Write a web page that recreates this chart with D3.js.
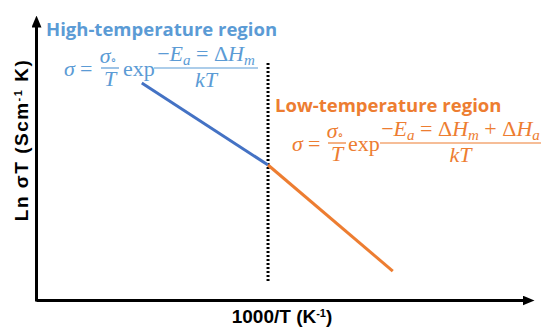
<!DOCTYPE html>
<html>
<head>
<meta charset="utf-8">
<script src="https://cdn.jsdelivr.net/npm/d3@7"></script>
<style>
  body { margin: 0; background: #fff; }
  svg { display: block; }
</style>
</head>
<body>
<div id="chart"></div>
<script>
// schematic Arrhenius plot, arbitrary units (x = 1000/T, y = ln sigma T)
const highX = [2.12, 4.65];
const highY = [7.59, 4.72];
const lowX = [4.65, 7.15];
const lowY = [4.72, 1.01];
const boundaryX = 4.65;
const boundaryY = [8.29, 0.63];

const xLabel = "1000/T (K";
const yLabel = "Ln σT (Scm";

const blueLine = "#4472c4";
const blueText = "#5b9bd5";
const orange = "#ed7d31";

const width = 542, height = 327;

const svg = d3.select("#chart")
  .append("svg")
  .attr("width", width)
  .attr("height", height);

const x = d3.scaleLinear().domain([0, 10]).range([36, 535]);
const y = d3.scaleLinear().domain([0, 10]).range([300, 14]);

const defs = svg.append("defs");
defs.append("marker")
  .attr("id", "arrow")
  .attr("markerUnits", "userSpaceOnUse")
  .attr("viewBox", "0 0 12 10")
  .attr("refX", 2)
  .attr("refY", 5)
  .attr("markerWidth", 12)
  .attr("markerHeight", 10)
  .attr("orient", "auto")
  .append("path")
  .attr("d", "M0,0L12,5L0,10Z")
  .attr("fill", "#000");

// axes: no ticks, just the lines with arrowheads
const xAxis = svg.append("g")
  .attr("transform", `translate(0,${y(0)})`)
  .call(d3.axisBottom(x.copy().range([36, 524])).tickValues([]).tickSizeOuter(0));
const yAxis = svg.append("g")
  .attr("transform", `translate(${x(0)},0)`)
  .call(d3.axisLeft(y.copy().range([301, 25])).tickValues([]).tickSizeOuter(0));
[xAxis, yAxis].forEach(a => a.select(".domain")
  .attr("stroke", "#000")
  .attr("stroke-width", 3)
  .attr("marker-end", "url(#arrow)"));

// dotted boundary
svg.append("line")
  .attr("x1", x(boundaryX)).attr("x2", x(boundaryX))
  .attr("y1", y(boundaryY[0])).attr("y2", y(boundaryY[1]))
  .attr("stroke", "#000")
  .attr("stroke-width", 3)
  .attr("stroke-dasharray", "2,2");

const line = d3.line().x(d => x(d[0])).y(d => y(d[1]));

svg.append("path")
  .datum(d3.zip(highX, highY))
  .attr("d", line)
  .attr("fill", "none")
  .attr("stroke", blueLine)
  .attr("stroke-width", 3);

svg.append("path")
  .datum(d3.zip(lowX, lowY))
  .attr("d", line)
  .attr("fill", "none")
  .attr("stroke", orange)
  .attr("stroke-width", 3);

// axis titles
svg.append("text")
  .attr("x", 282).attr("y", 323)
  .attr("text-anchor", "middle")
  .attr("font-family", "Liberation Sans, Arial, sans-serif")
  .attr("font-weight", "bold")
  .attr("font-size", 19)
  .text(xLabel)
  .call(t => {
    t.append("tspan").attr("baseline-shift", "super").attr("font-size", 11).text("-1");
    t.append("tspan").text(")");
  });

svg.append("text")
  .attr("transform", "translate(28,140) rotate(-90)")
  .attr("text-anchor", "middle")
  .attr("font-family", "Liberation Sans, Arial, sans-serif")
  .attr("font-weight", "bold")
  .attr("font-size", 19)
  .attr("letter-spacing", 1.5)
  .text(yLabel)
  .call(t => {
    t.append("tspan").attr("baseline-shift", "super").attr("font-size", 11).text("-1");
    t.append("tspan").text(" K)");
  });

// region titles
svg.append("text")
  .attr("x", 46).attr("y", 36)
  .attr("font-family", "Open Sans, sans-serif")
  .attr("font-weight", "bold")
  .attr("font-size", 18.5)
  .attr("fill", blueText)
  .text("High-temperature region");

svg.append("text")
  .attr("x", 275).attr("y", 112)
  .attr("font-family", "Open Sans, sans-serif")
  .attr("font-weight", "bold")
  .attr("font-size", 18.5)
  .attr("fill", orange)
  .text("Low-temperature region");

// sigma = sigma0/T exp(-Ea = ...)/kT
function formula(o) {
  const color = o.color, base = o.base;
  const g = svg.append("g")
    .attr("fill", color)
    .attr("font-family", "Liberation Serif, DejaVu Serif, serif")
    .attr("font-size", 22);
  const it = (px, py, s, anchor) => g.append("text")
    .attr("x", px).attr("y", py)
    .attr("font-style", "italic")
    .attr("text-anchor", anchor || "start")
    .text(s);
  const bar = base - 8;

  it(o.x0, base, "σ");
  g.append("text").attr("x", o.x0 + 16).attr("y", base).text("=");
  const sig = it(o.fc - 2, bar - 5, "σ", "middle");
  sig.append("tspan").attr("font-size", 12).attr("font-style", "normal").attr("dy", 1).text("∘");
  g.append("line")
    .attr("x1", o.fc - 9).attr("x2", o.fc + 9)
    .attr("y1", bar).attr("y2", bar)
    .attr("stroke", color).attr("stroke-width", 1.2);
  it(o.fc, bar + 18, "T", "middle");
  g.append("text").attr("x", o.expX).attr("y", base).text("exp");

  const mid = (o.barStart + o.barEnd) / 2;
  const num = g.append("text")
    .attr("x", mid).attr("y", bar - 7)
    .attr("text-anchor", "middle");
  o.parts.forEach(p => {
    num.append("tspan")
      .attr("font-style", p.italic ? "italic" : null)
      .attr("font-size", p.sub ? 15 : null)
      .attr("dy", p.sub ? 4 : (p.after ? -4 : null))
      .text(p.t);
  });
  g.append("line")
    .attr("x1", o.barStart).attr("x2", o.barEnd)
    .attr("y1", bar).attr("y2", bar)
    .attr("stroke", color).attr("stroke-width", 1.2);
  it(mid, bar + 19, "kT", "middle");
}

formula({
  x0: 64, base: 76, fc: 110, expX: 123, barStart: 154, barEnd: 258, color: blueText,
  parts: [
    { t: "−" }, { t: "E", italic: true }, { t: "a", italic: true, sub: true },
    { t: " = Δ", after: true }, { t: "H", italic: true }, { t: "m", italic: true, sub: true }
  ]
});

formula({
  x0: 292, base: 151, fc: 337, expX: 348, barStart: 380, barEnd: 541, color: orange,
  parts: [
    { t: "−" }, { t: "E", italic: true }, { t: "a", italic: true, sub: true },
    { t: " = Δ", after: true }, { t: "H", italic: true }, { t: "m", italic: true, sub: true },
    { t: " + Δ", after: true }, { t: "H", italic: true }, { t: "a", italic: true, sub: true }
  ]
});
</script>
</body>
</html>
